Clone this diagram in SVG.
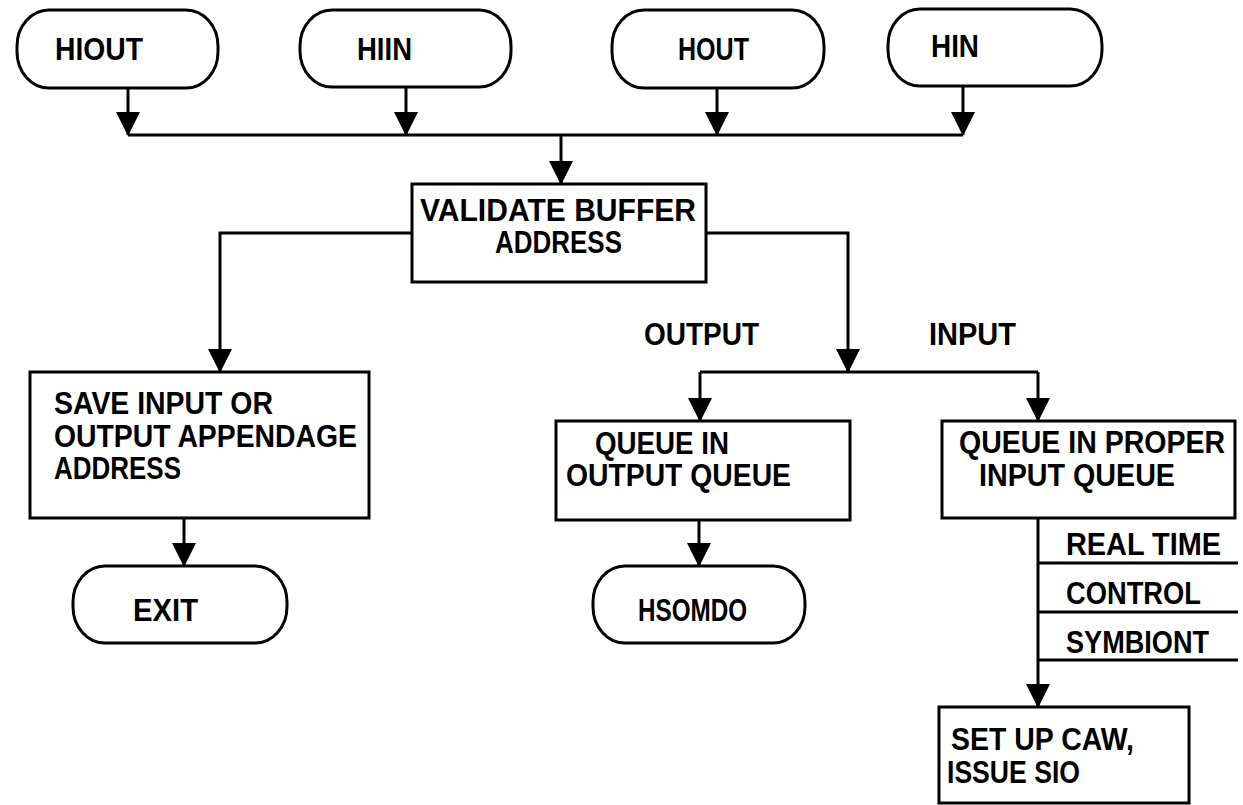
<svg xmlns="http://www.w3.org/2000/svg" width="1243" height="805" viewBox="0 0 1243 805">
<style>
.bg{fill:#ffffff}
.shape{fill:#ffffff;stroke:#000;stroke-width:3}
.ln{fill:none;stroke:#000;stroke-width:3}
.t{font-family:"Liberation Sans",Arial,sans-serif;font-weight:bold;font-size:32px;fill:#000}
</style>
<defs>
<marker id="arr" viewBox="0 0 24 24" markerWidth="24" markerHeight="24" markerUnits="userSpaceOnUse" refX="23" refY="12" orient="auto">
<path d="M0,0 L24,12 L0,24 z" fill="#000"/>
</marker>
</defs>
<rect class="bg" x="0" y="0" width="1243" height="805"/>

<g id="connectors">
<path class="ln" d="M128,88 V135" marker-end="url(#arr)"/>
<path class="ln" d="M406,87 V135" marker-end="url(#arr)"/>
<path class="ln" d="M717,88 V135" marker-end="url(#arr)"/>
<path class="ln" d="M963,87 V135" marker-end="url(#arr)"/>
<path class="ln" d="M128,135 H963"/>
<path class="ln" d="M561,135 V184" marker-end="url(#arr)"/>
<path class="ln" d="M412,233 H220 V372" marker-end="url(#arr)"/>
<path class="ln" d="M706,233 H848 V372" marker-end="url(#arr)"/>
<path class="ln" d="M700,372 H1038"/>
<path class="ln" d="M700,372 V421" marker-end="url(#arr)"/>
<path class="ln" d="M1038,372 V421" marker-end="url(#arr)"/>
<path class="ln" d="M184,518 V566" marker-end="url(#arr)"/>
<path class="ln" d="M699,520 V566" marker-end="url(#arr)"/>
<path class="ln" d="M1038,518 V707" marker-end="url(#arr)"/>
<path class="ln" d="M1038,563 H1238"/>
<path class="ln" d="M1038,612 H1238"/>
<path class="ln" d="M1038,660 H1238"/>
</g>

<g id="hiout">
<rect class="shape" x="17" y="10" width="201" height="78" rx="32" ry="36"/>
<text class="t" x="55" y="60" textLength="88" lengthAdjust="spacingAndGlyphs">HIOUT</text>
</g>
<g id="hiin">
<rect class="shape" x="300" y="10" width="211" height="77" rx="32" ry="36"/>
<text class="t" x="357" y="60" textLength="55" lengthAdjust="spacingAndGlyphs">HIIN</text>
</g>
<g id="hout">
<rect class="shape" x="612" y="10" width="212" height="78" rx="32" ry="36"/>
<text class="t" x="678" y="60" textLength="71" lengthAdjust="spacingAndGlyphs">HOUT</text>
</g>
<g id="hin">
<rect class="shape" x="888" y="9" width="214" height="77" rx="32" ry="36"/>
<text class="t" x="931" y="57" textLength="48" lengthAdjust="spacingAndGlyphs">HIN</text>
</g>

<g id="validate">
<rect class="shape" x="412" y="184" width="294" height="98"/>
<text class="t" x="420" y="221" textLength="276" lengthAdjust="spacingAndGlyphs">VALIDATE BUFFER</text>
<text class="t" x="495" y="253" textLength="127" lengthAdjust="spacingAndGlyphs">ADDRESS</text>
</g>

<g id="label-output">
<text class="t" x="644" y="345" textLength="115" lengthAdjust="spacingAndGlyphs">OUTPUT</text>
</g>
<g id="label-input">
<text class="t" x="929" y="345" textLength="87" lengthAdjust="spacingAndGlyphs">INPUT</text>
</g>

<g id="save">
<rect class="shape" x="30" y="372" width="339" height="146"/>
<text class="t" x="54" y="414" textLength="219" lengthAdjust="spacingAndGlyphs">SAVE INPUT OR</text>
<text class="t" x="54" y="447" textLength="303" lengthAdjust="spacingAndGlyphs">OUTPUT APPENDAGE</text>
<text class="t" x="54" y="479" textLength="127" lengthAdjust="spacingAndGlyphs">ADDRESS</text>
</g>

<g id="exit">
<rect class="shape" x="73" y="566" width="214" height="77" rx="32" ry="36"/>
<text class="t" x="133" y="621" textLength="65" lengthAdjust="spacingAndGlyphs">EXIT</text>
</g>

<g id="queue-output">
<rect class="shape" x="556" y="421" width="294" height="99"/>
<text class="t" x="595" y="454" textLength="134" lengthAdjust="spacingAndGlyphs">QUEUE IN</text>
<text class="t" x="566" y="486" textLength="225" lengthAdjust="spacingAndGlyphs">OUTPUT QUEUE</text>
</g>

<g id="hsomdo">
<rect class="shape" x="593" y="566" width="212" height="77" rx="32" ry="36"/>
<text class="t" x="638" y="621" textLength="109" lengthAdjust="spacingAndGlyphs">HSOMDO</text>
</g>

<g id="queue-input">
<rect class="shape" x="942" y="421" width="293" height="97"/>
<text class="t" x="959" y="453" textLength="266" lengthAdjust="spacingAndGlyphs">QUEUE IN PROPER</text>
<text class="t" x="979" y="486" textLength="196" lengthAdjust="spacingAndGlyphs">INPUT QUEUE</text>
</g>

<g id="queue-labels">
<text class="t" x="1066" y="555" textLength="155" lengthAdjust="spacingAndGlyphs">REAL TIME</text>
<text class="t" x="1066" y="604" textLength="135" lengthAdjust="spacingAndGlyphs">CONTROL</text>
<text class="t" x="1066" y="653" textLength="143" lengthAdjust="spacingAndGlyphs">SYMBIONT</text>
</g>

<g id="setup">
<rect class="shape" x="939" y="707" width="250" height="96"/>
<text class="t" x="951" y="750" textLength="183" lengthAdjust="spacingAndGlyphs">SET UP CAW,</text>
<text class="t" x="947" y="783" textLength="133" lengthAdjust="spacingAndGlyphs">ISSUE SIO</text>
</g>
</svg>
